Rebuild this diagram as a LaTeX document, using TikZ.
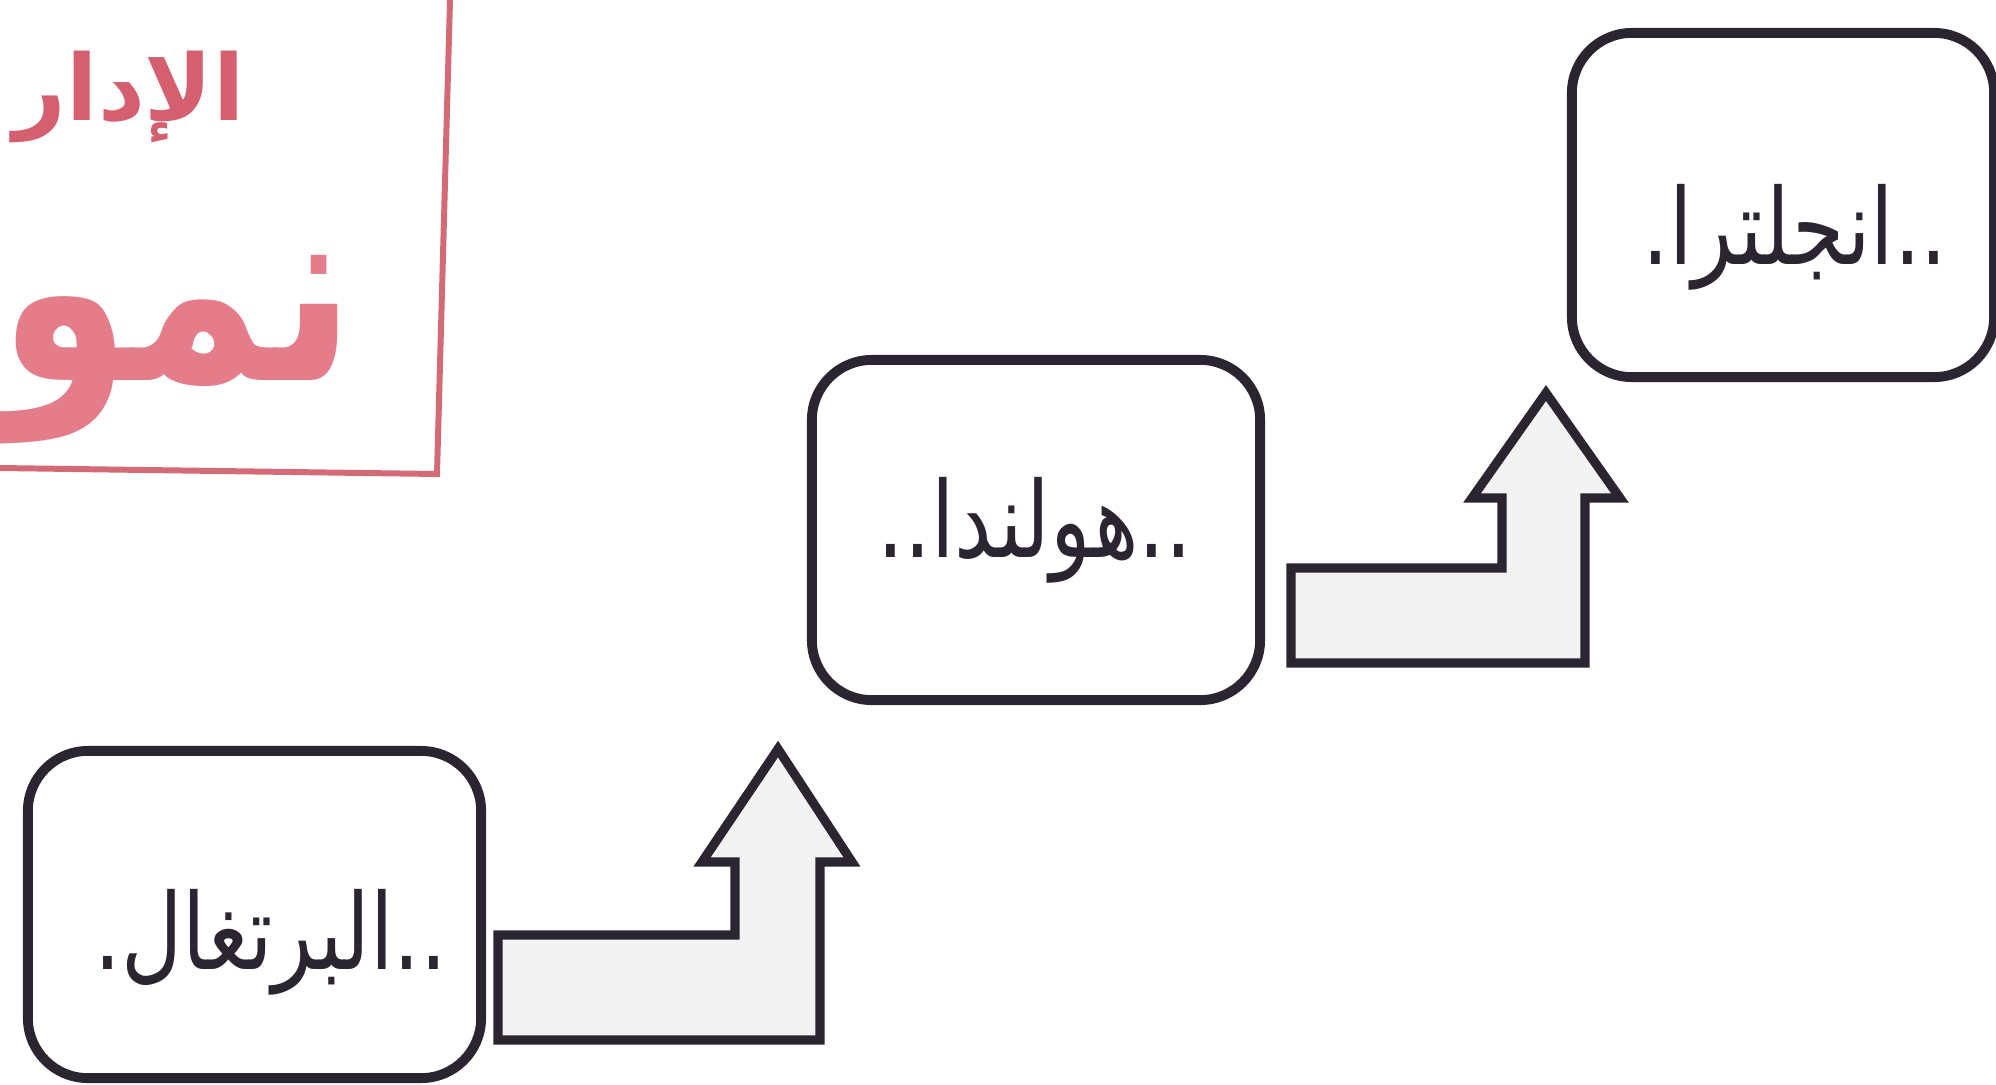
\documentclass[tikz,border=0pt]{standalone}
\usepackage{graphicx}
\usepackage{fontspec}
\newfontfamily\arabicfont[Script=Arabic]{DejaVu Sans}
\TeXXeTstate=1
\definecolor{ink}{HTML}{2A2530}
\definecolor{arrowfill}{HTML}{F3F3F3}
\definecolor{titlered}{HTML}{D4606F}
\definecolor{bigpink}{HTML}{E57C89}
\definecolor{framered}{HTML}{D46A76}
\newcommand{\boxlabel}[1]{\scalebox{0.8}[1]{\beginR #1\endR}}
\tikzset{
  roundbox/.style={draw=ink, line width=2.8pt, rounded corners=0.6cm, fill=white, inner sep=0pt},
  boxtext/.style={font=\arabicfont\fontsize{30}{36}\selectfont, text=ink, inner sep=0pt},
  blockarrow/.style={draw=ink, fill=arrowfill, line width=2.6pt, line join=miter},
  frameline/.style={draw=framered, line width=1.7pt},
}
\begin{document}
\begin{tikzpicture}[x=0.01cm,y=-0.01cm]
\useasboundingbox (0,0) rectangle (1996,1084);
\fill[white] (0,0) rectangle (1996,1084);
\clip (0,0) rectangle (1996,1084);

% red frame and title (cut off at left, as in the reference)
\coordinate (f1) at (0,468);
\coordinate (f2) at (437,474);
\coordinate (f3) at (450,0);
\draw[frameline] (f1) -- (f2) -- (f3);
\node[anchor=base east, inner sep=0pt, text=titlered, font=\arabicfont\bfseries\fontsize{26}{30}\selectfont] (title) at (245,120) {\beginR الإدار\endR};
\node[anchor=base east, inner sep=0pt, text=bigpink, font=\arabicfont\bfseries\fontsize{74}{80}\selectfont] (big) at (356,380) {\scalebox{0.82}[1]{\beginR نمو\endR}};

% boxes
\node[roundbox, minimum width=4.53cm, minimum height=3.27cm] (a) at (254.5,914.5) {};
\node[roundbox, minimum width=4.48cm, minimum height=3.40cm] (b) at (1036,530) {};
\node[roundbox, minimum width=4.22cm, minimum height=3.44cm] (c) at (1783,205) {};

\node[boxtext] (ta) at (271,942) {\boxlabel{..البرتغال.}};
\node[boxtext] (tb) at (1035,530) {\boxlabel{..هولندا..}};
\node[boxtext] (tc) at (1795,237) {\boxlabel{..انجلترا.}};

% block arrows
\draw[blockarrow] (498,1040) -- (498,935) -- (735,935) -- (735,862) -- (702,862)
  -- (778,749) -- (852,862) -- (820,862) -- (820,1040) -- cycle;
\draw[blockarrow] (1291,663) -- (1291,568) -- (1502,568) -- (1502,498) -- (1472,498)
  -- (1546,393) -- (1620,498) -- (1585,498) -- (1585,663) -- cycle;
\end{tikzpicture}
\end{document}
